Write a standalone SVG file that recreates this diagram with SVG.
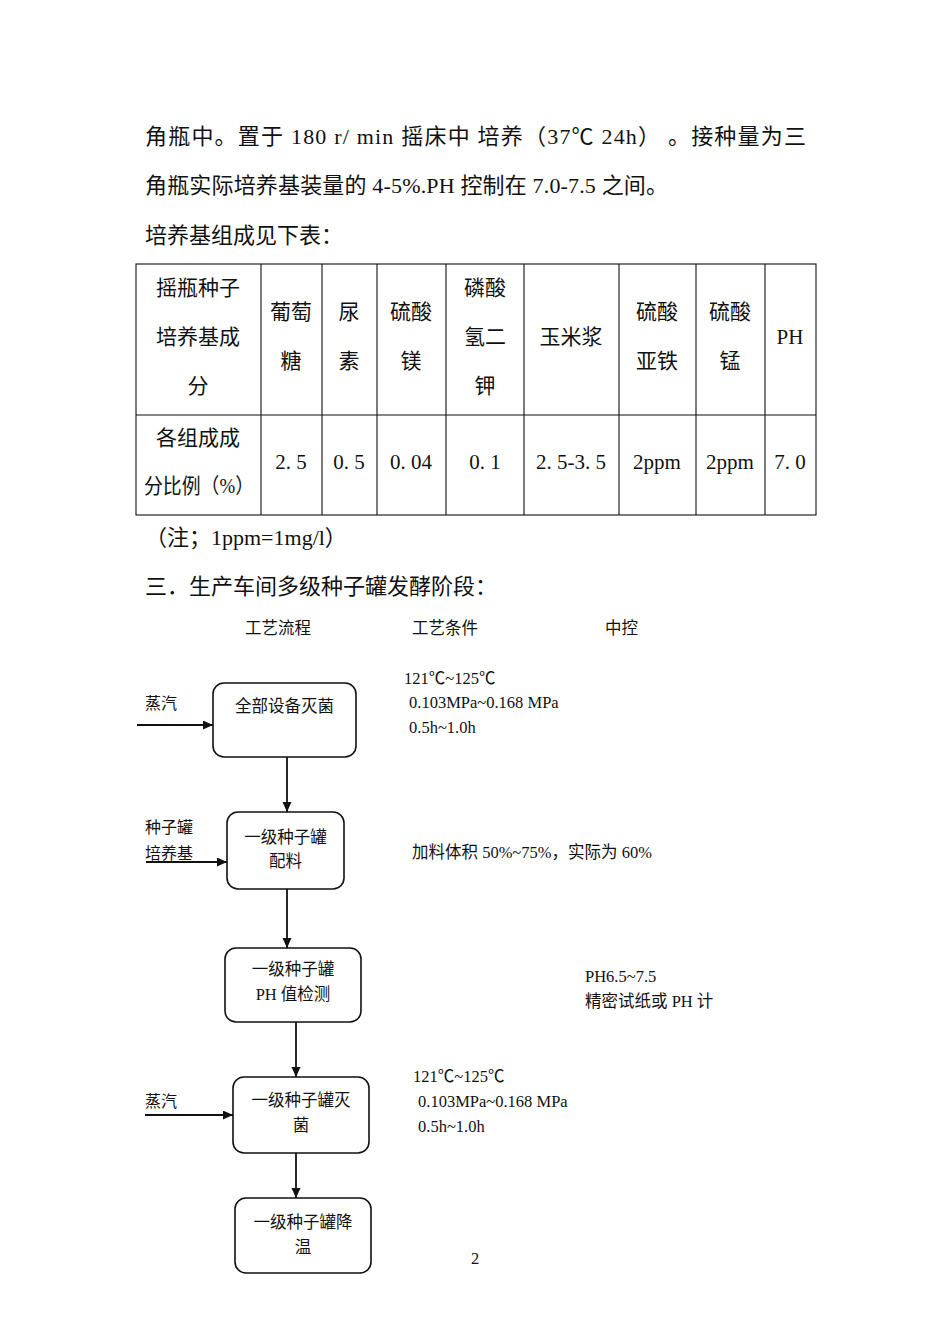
<svg xmlns="http://www.w3.org/2000/svg" width="950" height="1344" viewBox="0 0 950 1344">
<style>
.body{font-family:"Liberation Serif","Noto Sans CJK SC",serif;font-size:22px;fill:#111}
.tbl{font-family:"Liberation Serif","Noto Sans CJK SC",serif;font-size:21px;fill:#111;text-anchor:middle}
.hdr{font-family:"Liberation Serif","Noto Sans CJK SC",serif;font-size:16.5px;fill:#111}
.nt{font-family:"Liberation Serif","Noto Sans CJK SC",serif;font-size:16.5px;fill:#111;text-anchor:middle}
.lbl{font-family:"Liberation Serif","Noto Sans CJK SC",serif;font-size:16px;fill:#111}
.cond{font-family:"Liberation Serif","Noto Sans CJK SC",serif;font-size:16.5px;fill:#111}
.box{fill:#fff;stroke:#111;stroke-width:1.6}
.tl{stroke:#111;stroke-width:1.1;fill:none}
.arr{stroke:#111;stroke-width:1.8;fill:none;marker-end:url(#ah)}
</style>
<defs>
<marker id="ah" markerUnits="userSpaceOnUse" markerWidth="11" markerHeight="10" refX="10" refY="4.5" orient="auto">
<path d="M0,0 L10,4.5 L0,9 z" fill="#111"/>
</marker>
</defs>
<rect width="950" height="1344" fill="#fff"/>

<g id="paragraph">
<text class="body" x="145" y="144" textLength="661" lengthAdjust="spacing">角瓶中。置于 180 r/ min 摇床中 培养（37℃ 24h） 。接种量为三</text>
<text class="body" x="145" y="193" textLength="523" lengthAdjust="spacing">角瓶实际培养基装量的 4-5%.PH 控制在 7.0-7.5 之间。</text>
<text class="body" x="145" y="243">培养基组成见下表：</text>
</g>

<g id="table">
<rect class="tl" x="136" y="264" width="680" height="251"/>
<line class="tl" x1="136" y1="415" x2="816" y2="415"/>
<line class="tl" x1="261" y1="264" x2="261" y2="515"/>
<line class="tl" x1="322" y1="264" x2="322" y2="515"/>
<line class="tl" x1="377" y1="264" x2="377" y2="515"/>
<line class="tl" x1="446" y1="264" x2="446" y2="515"/>
<line class="tl" x1="524" y1="264" x2="524" y2="515"/>
<line class="tl" x1="619" y1="264" x2="619" y2="515"/>
<line class="tl" x1="696" y1="264" x2="696" y2="515"/>
<line class="tl" x1="765" y1="264" x2="765" y2="515"/>
<text class="tbl" x="198" y="295">摇瓶种子</text>
<text class="tbl" x="198" y="344">培养基成</text>
<text class="tbl" x="198" y="393">分</text>
<text class="tbl" x="291" y="319">葡萄</text>
<text class="tbl" x="291" y="368">糖</text>
<text class="tbl" x="349" y="319">尿</text>
<text class="tbl" x="349" y="368">素</text>
<text class="tbl" x="411" y="319">硫酸</text>
<text class="tbl" x="411" y="368">镁</text>
<text class="tbl" x="485" y="295">磷酸</text>
<text class="tbl" x="485" y="344">氢二</text>
<text class="tbl" x="485" y="393">钾</text>
<text class="tbl" x="571" y="344">玉米浆</text>
<text class="tbl" x="657" y="319">硫酸</text>
<text class="tbl" x="657" y="368">亚铁</text>
<text class="tbl" x="730" y="319">硫酸</text>
<text class="tbl" x="730" y="368">锰</text>
<text class="tbl" x="790" y="344">PH</text>
<text class="tbl" x="198" y="445">各组成成</text>
<text class="tbl" x="199" y="493" textLength="110" lengthAdjust="spacingAndGlyphs">分比例（%）</text>
<text class="tbl" x="291" y="469">2. 5</text>
<text class="tbl" x="349" y="469">0. 5</text>
<text class="tbl" x="411" y="469">0. 04</text>
<text class="tbl" x="485" y="469">0. 1</text>
<text class="tbl" x="571" y="469">2. 5-3. 5</text>
<text class="tbl" x="657" y="469">2ppm</text>
<text class="tbl" x="730" y="469">2ppm</text>
<text class="tbl" x="790" y="469">7. 0</text>
</g>

<g id="notes">
<text class="body" x="145" y="545" font-size="21">（注；1ppm=1mg/l）</text>
<text class="body" x="145" y="594">三．生产车间多级种子罐发酵阶段：</text>
<text class="hdr" x="245" y="634">工艺流程</text>
<text class="hdr" x="412" y="634">工艺条件</text>
<text class="hdr" x="605" y="634">中控</text>
</g>

<g id="connectors">
<line class="arr" x1="137" y1="725" x2="213" y2="725"/>
<line class="arr" x1="287" y1="757" x2="287" y2="812"/>
<line class="arr" x1="146" y1="862" x2="227" y2="862"/>
<line class="arr" x1="287" y1="889" x2="287" y2="948"/>
<line class="arr" x1="296" y1="1022" x2="296" y2="1077"/>
<line class="arr" x1="145" y1="1115" x2="233" y2="1115"/>
<line class="arr" x1="296" y1="1153" x2="296" y2="1198"/>
</g>

<g id="node-sterilize-all">
<rect class="box" x="213" y="683" width="143" height="74" rx="11"/>
<text class="nt" x="284.5" y="712">全部设备灭菌</text>
</g>
<g id="node-batching">
<rect class="box" x="227" y="812" width="117" height="77" rx="11"/>
<text class="nt" x="285.5" y="843">一级种子罐</text>
<text class="nt" x="285.5" y="867">配料</text>
</g>
<g id="node-ph">
<rect class="box" x="225" y="948" width="136" height="74" rx="11"/>
<text class="nt" x="293" y="975">一级种子罐</text>
<text class="nt" x="293" y="1000">PH 值检测</text>
</g>
<g id="node-sterilize">
<rect class="box" x="233" y="1077" width="136" height="76" rx="11"/>
<text class="nt" x="301" y="1106">一级种子罐灭</text>
<text class="nt" x="301" y="1131">菌</text>
</g>
<g id="node-cool">
<rect class="box" x="235" y="1198" width="136" height="75" rx="11"/>
<text class="nt" x="303" y="1228">一级种子罐降</text>
<text class="nt" x="303" y="1253">温</text>
</g>

<g id="labels">
<text class="lbl" x="145" y="709">蒸汽</text>
<text class="lbl" x="145" y="833">种子罐</text>
<text class="lbl" x="145" y="859">培养基</text>
<text class="lbl" x="145" y="1107">蒸汽</text>
<text class="cond" x="404" y="684">121℃~125℃</text>
<text class="cond" x="409" y="708">0.103MPa~0.168 MPa</text>
<text class="cond" x="409" y="733">0.5h~1.0h</text>
<text class="cond" x="412" y="858">加料体积 50%~75%，实际为 60%</text>
<text class="cond" x="585" y="982">PH6.5~7.5</text>
<text class="cond" x="585" y="1007">精密试纸或 PH 计</text>
<text class="cond" x="413" y="1082">121℃~125℃</text>
<text class="cond" x="418" y="1107">0.103MPa~0.168 MPa</text>
<text class="cond" x="418" y="1132">0.5h~1.0h</text>
<text class="cond" x="471" y="1264" font-size="13">2</text>
</g>
</svg>
